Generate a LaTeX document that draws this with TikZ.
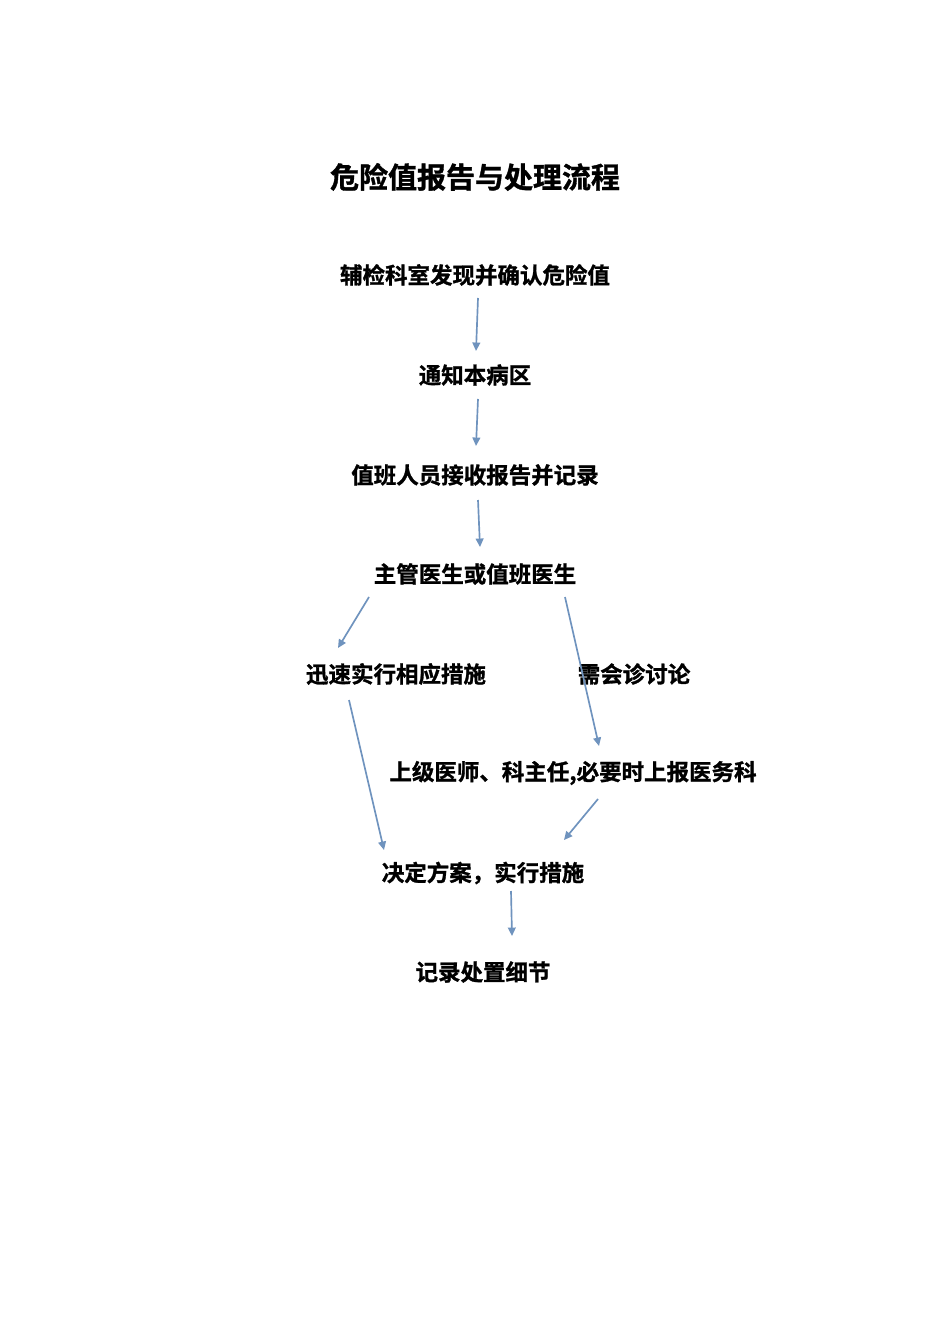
\documentclass[tikz,border=0pt]{standalone}
\usepackage{fontspec}
\setmainfont{Noto Sans CJK SC}
\newfontfamily\cjkb[FakeBold=1.2]{Noto Sans CJK SC Bold}
\usetikzlibrary{arrows.meta}
\definecolor{arrowblue}{HTML}{6F93BE}
\tikzset{
  lbl/.style={inner sep=0pt, font=\cjkb\fontsize{12.8pt}{14pt}\selectfont},
  ttl/.style={inner sep=0pt, font=\cjkb\fontsize{16.5pt}{18pt}\selectfont},
  flow/.style={draw=arrowblue, line width=0.95pt, -{Triangle[length=4.8pt,width=4.4pt]}}
}
\begin{document}
\begin{tikzpicture}[x=0.02cm,y=-0.02cm]
\useasboundingbox (0,0) rectangle (950,1344);
\fill[white] (0,0) rectangle (950,1344);
\node[ttl] (title) at (475,177) {危险值报告与处理流程};
\node[lbl] (n1) at (475,275) {辅检科室发现并确认危险值};
\node[lbl] (n2) at (475,375) {通知本病区};
\node[lbl] (n3) at (475,475) {值班人员接收报告并记录};
\node[lbl] (n4) at (475,574) {主管医生或值班医生};
\node[lbl] (n5) at (396,674) {迅速实行相应措施};
\node[lbl] (n6) at (634,674) {需会诊讨论};
\node[lbl] (n7) at (573,773) {上级医师、科主任,必要时上报医务科};
\node[lbl] (n8) at (483,873) {决定方案，实行措施};
\node[lbl] (n9) at (483,972) {记录处置细节};
\coordinate (a1s) at (478,298); \coordinate (a1e) at (476,351);
\coordinate (a2s) at (478,399); \coordinate (a2e) at (476,446);
\coordinate (a3s) at (478,500); \coordinate (a3e) at (480,547);
\coordinate (a4s) at (369,597); \coordinate (a4e) at (338,648);
\coordinate (a5s) at (565,597); \coordinate (a5e) at (599,746);
\coordinate (a6s) at (349,700); \coordinate (a6e) at (384,850);
\coordinate (a7s) at (598,799); \coordinate (a7e) at (564,840);
\coordinate (a8s) at (511,891); \coordinate (a8e) at (512,936);
\draw[flow] (a1s) -- (a1e);
\draw[flow] (a2s) -- (a2e);
\draw[flow] (a3s) -- (a3e);
\draw[flow] (a4s) -- (a4e);
\draw[flow] (a5s) -- (a5e);
\draw[flow] (a6s) -- (a6e);
\draw[flow] (a7s) -- (a7e);
\draw[flow] (a8s) -- (a8e);
\end{tikzpicture}
\end{document}
